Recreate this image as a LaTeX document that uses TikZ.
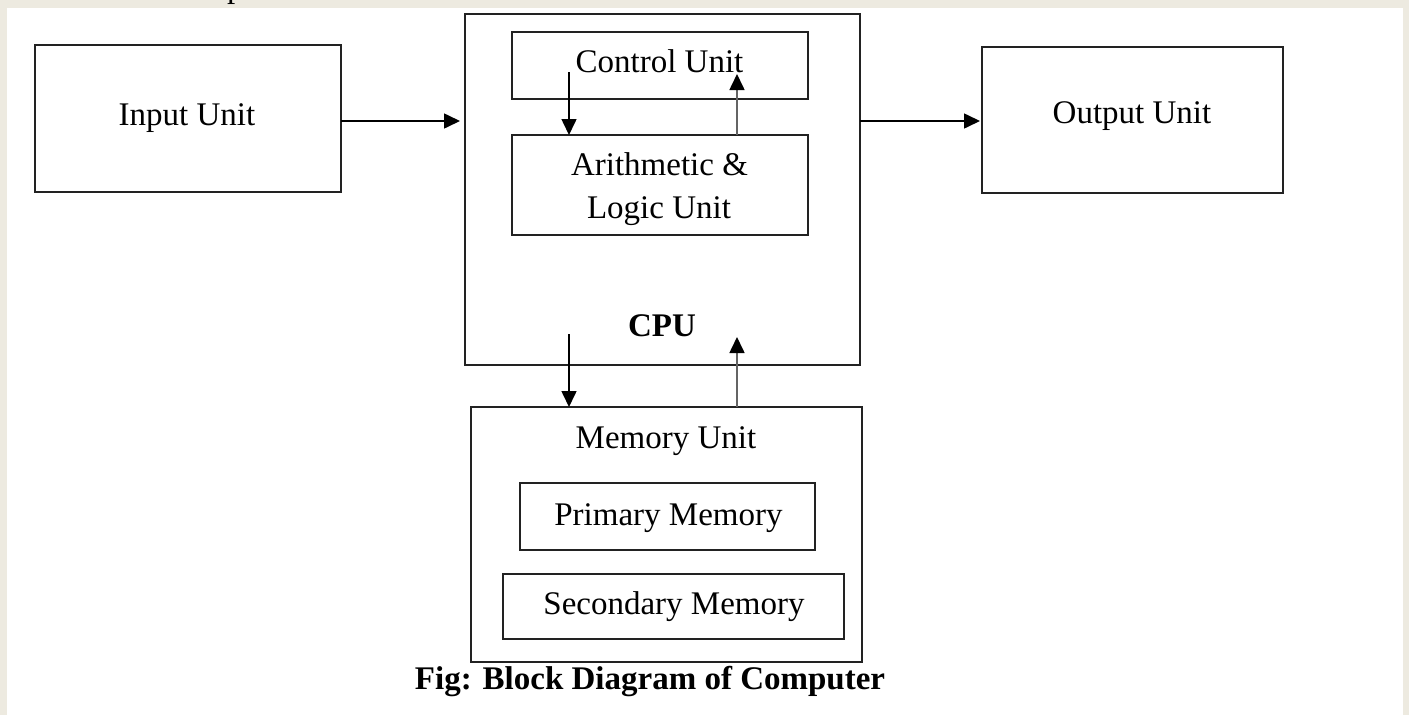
\documentclass[tikz,border=0pt]{standalone}
\usepackage{fontspec}
\setmainfont{Liberation Serif}
\usetikzlibrary{arrows.meta}
\definecolor{pagebg}{RGB}{237,234,224}
\definecolor{boxline}{RGB}{34,34,34}
\definecolor{upline}{RGB}{100,100,100}
\begin{document}
\begin{tikzpicture}[x=1pt,y=-1pt,
  box/.style={draw=boxline,line width=1.8pt,inner sep=0pt,outer sep=0pt},
  lbl/.style={anchor=base,inner sep=0pt,font=\fontsize{33}{43}\selectfont},
  blbl/.style={lbl,font=\fontsize{33}{43}\selectfont\bfseries},
  arr/.style={line width=1.6pt,-{Triangle[length=16pt,width=15pt]}},
  uparr/.style={arr,draw=upline,{}-{Triangle[length=16pt,width=15pt,fill=black,color=black]}}]
\useasboundingbox (0,0) rectangle (1409,715);
\fill[pagebg] (0,0) rectangle (1409,715);
\fill[white] (7,8) rectangle (1403,715);
\begin{scope}
\clip (0,0) rectangle (1409,8);
\node[lbl] (toptext) at (257,-3) {Output Unit};
\end{scope}
% boxes
\node[box,minimum width=306pt,minimum height=147pt] (input) at (188,118.5) {};
\node[box,minimum width=395pt,minimum height=351pt] (cpu) at (662.5,189.5) {};
\node[box,minimum width=296pt,minimum height=67pt] (cu) at (660,65.5) {};
\node[box,minimum width=296pt,minimum height=100pt] (alu) at (660,185) {};
\node[box,minimum width=301pt,minimum height=146pt] (out) at (1132.5,120) {};
\node[box,minimum width=391pt,minimum height=255pt] (mem) at (666.5,534.5) {};
\node[box,minimum width=295pt,minimum height=67pt] (prim) at (667.5,516.5) {};
\node[box,minimum width=341pt,minimum height=65pt] (sec) at (673.5,606.5) {};
% labels
\node[lbl] (tin) at (187,125) {Input Unit};
\node[lbl] (tcu) at (659.5,72) {Control Unit};
\node[lbl] (talu1) at (659.5,175) {Arithmetic \&};
\node[lbl] (talu2) at (659,218) {Logic Unit};
\node[lbl] (tout) at (1132,123) {Output Unit};
\node[blbl] (tcpu) at (662,336) {CPU};
\node[lbl] (tmem) at (666,448) {Memory Unit};
\node[lbl] (tprim) at (668.5,525) {Primary Memory};
\node[lbl] (tsec) at (674,614) {Secondary Memory};
\node[blbl] (caption) at (650,689) {Fig: Block Diagram of Computer};
% connector end points inside boxes
\coordinate (cuA) at (569,72);
\coordinate (cuB) at (737,74);
\coordinate (cpuA) at (569,334);
\coordinate (cpuB) at (737,337);
% connectors
\draw[arr] (input.east |- 0,121) -- ([xshift=-5pt]cpu.west |- 0,121);
\draw[arr] (cpu.east |- 0,121) -- ([xshift=-2pt]out.west |- 0,121);
\draw[arr] (cuA) -- (cuA |- alu.north);
\draw[uparr] (cuB |- alu.north) -- (cuB);
\draw[arr] (cpuA) -- (cpuA |- mem.north);
\draw[uparr] (cpuB |- mem.north) -- (cpuB);
\end{tikzpicture}
\end{document}
